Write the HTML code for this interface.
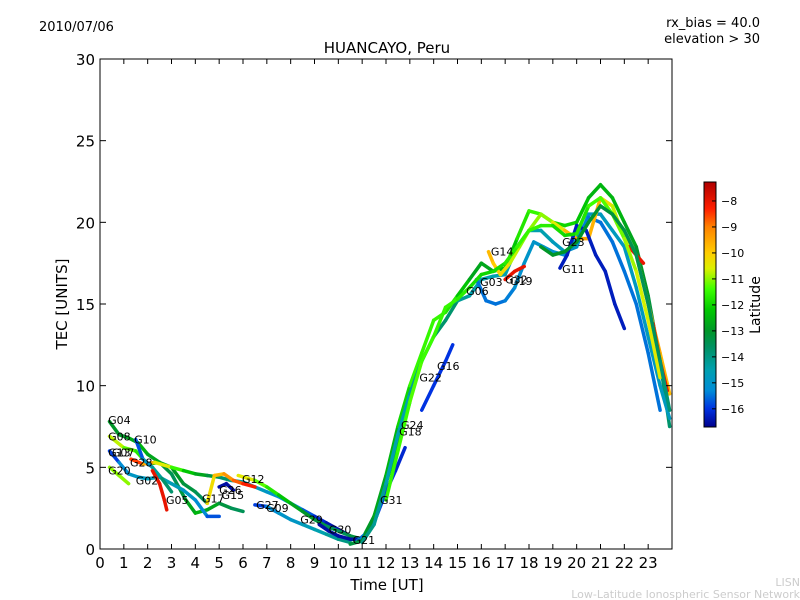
<!DOCTYPE html>
<html><head><meta charset="utf-8"><style>
body{margin:0;background:#fff;}
svg{display:block;font-family:"DejaVu Sans","Liberation Sans",sans-serif;}
</style></head><body>
<svg id="chart" width="800" height="600">
<text x="39" y="31" font-size="13">2010/07/06</text>
<text x="760" y="27" font-size="13" text-anchor="end">rx_bias = 40.0</text>
<text x="760" y="43" font-size="13" text-anchor="end">elevation &gt; 30</text>
<text x="387" y="53" font-size="15" text-anchor="middle">HUANCAYO, Peru</text>
<text x="387" y="590" font-size="15" text-anchor="middle">Time [UT]</text>
<text x="67" y="304" font-size="15" text-anchor="middle" transform="rotate(-90 67 304)">TEC [UNITS]</text>
<text x="800" y="586" font-size="11" fill="#ccc" text-anchor="end">LISN</text>
<text x="800" y="598" font-size="11" fill="#ccc" text-anchor="end">Low-Latitude Ionospheric Sensor Network</text>
<defs><linearGradient id="cmap" x1="0" y1="1" x2="0" y2="0"></linearGradient>
<clipPath id="pc"><rect x="100" y="59" width="572" height="490"/></clipPath></defs>
<g id="tracks" clip-path="url(#pc)"></g>
<g id="labels"></g>
<rect x="100" y="59" width="572" height="490" fill="none" stroke="#000"/>
<g id="axes"></g>
<rect x="704" y="182" width="12" height="245" fill="url(#cmap)" stroke="#000"/>
<g id="cbar"></g>
<text x="760" y="305" font-size="14" text-anchor="middle" transform="rotate(-90 760 305)">Latitude</text>
</svg>
<script>
const xTicks=[0,1,2,3,4,5,6,7,8,9,10,11,12,13,14,15,16,17,18,19,20,21,22,23];
const yTicks=[0,5,10,15,20,25,30];
const cbTicks=[-8,-9,-10,-11,-12,-13,-14,-15,-16];
const trackNames=["G04","G08","G20","G13","G28","G10","G02","G12","G17","G26","G27","G30","G31","G24","G18","G06","G14","G23a","G23b","G11","G16","G19","G25","G01"];
const trackTimes=[
[0.4,0.8,1.2,1.6,2,2.5,3,3.3,3.6,4,4.5,5,5.5,6],
[0.4,1,1.5,2,2.5,3,3.5,4,4.5],
[0.4,0.8,1.2],
[0.4,0.8,1.2,1.6,2,2.5,3,3.5,4,4.5,5],
[1.3,1.8,2.3,3,3.5,4,4.5,5,5.5,6,6.5,7,7.5,8,8.5,9,9.5,10,10.5,11],
[1.5,1.8,2.2,2.6,3],
[2.2,2.5,2.7,2.8],
[5.8,6.5,7,7.5,8,8.5,9,9.5,10,10.5,11,11.5,12,12.5,13],
[4.5,4.8,5.2,5.6,6,6.5],
[5,5.3,5.6],
[6.5,7,7.5,8,8.5,9,9.5,10,10.5],
[9.2,9.6,10,10.5,11],
[10.8,11.2,11.6,12,12.4,12.8],
[10.5,11,11.5,12,12.5,13,13.5,14,14.5,15,15.5,16,16.5,17,17.5,18,18.5,19,19.5,20,20.5,21,21.5,22,22.5,23,23.5,23.9],
[11,11.5,12,12.5,13,13.5,14,14.5,15,15.5,16,16.5,17,17.5,18,18.5,19,19.5,20,20.5,21,21.5,22,22.5,23,23.5,23.9],
[15.8,16.2,16.6,17,17.4,17.8,18.2,18.6,19,19.5,20,20.5,21,21.5,22,22.5,23,23.5],
[16.3,16.5,16.8,17.2,17.6,18,18.5,19,19.5,20,20.5,21,21.5,22,22.5,23,23.5,23.9],
[22.2,22.5,22.8],
[23.2,23.5,23.8],
[19.3,19.6,20,20.4,20.8,21.2,21.6,22],
[13.5,14,14.5,14.8],
[17,17.4,17.8],
[12,12.5,13,13.5,14,14.5,15,15.5,16,16.5,17,17.5,18,18.5,19,19.5,20,20.5,21,21.5,22,22.5,23,23.5],
[18.5,19,19.5,20,20.5,21,21.5,22,22.5,23,23.5,23.9]];
const trackTec=[
[7.8,7,6.8,6.5,5.8,5.3,4.6,3.8,3.0,2.2,2.4,2.8,2.5,2.3],
[6.9,6.2,6,5.2,5.3,5.0,4.0,3.5,2.8],
[5,4.5,4],
[6,5.3,4.6,4.4,4.3,4.4,4.0,3.6,3.0,2.0,2.0],
[5.5,5.2,5.3,5,4.8,4.6,4.5,4.4,4.2,4.1,3.8,3.5,3.2,2.8,2.4,2.0,1.6,1.2,0.8,0.5],
[6.7,5.5,5,4.3,3.5],
[4.8,4,3,2.4],
[4.5,4.2,3.8,3.3,2.8,2.3,1.8,1.4,1.1,0.8,0.6,2,4,6.5,9],
[2.8,4.5,4.6,4.2,4,3.8],
[3.8,4,3.6],
[2.7,2.6,2.2,1.8,1.5,1.2,0.9,0.6,0.4],
[1.5,1.1,0.8,0.6,0.6],
[0.5,1,2,3.5,4.8,6.2],
[0.3,0.5,2,4.5,7.5,10,12,14,14.5,15.5,16.5,17.5,17.0,17.2,19,20.7,20.5,20,19.8,20,21.5,22.3,21.5,20,18.5,15.5,11.5,7.5],
[0.4,1.5,4,7,9.5,11.5,13,14,15.2,15.5,16.5,16.7,16.8,18.5,19.5,19.5,18.8,18.2,18.5,20.5,20.5,19.5,18.5,16,13,10,8],
[16.5,15.2,15,15.2,16,17.5,18.8,18.5,18.2,18,19,20.3,20,18.8,17,15,12,8.5],
[18.2,17.5,16.8,17.5,18.5,19.5,20.5,20,19.5,19,19,21.5,21,19,18,15,12,9.5],
[18.5,18,17.5],
[13.8,11.5,9.7],
[17.2,18,19.8,19.5,18,17,15,13.5],
[8.5,10,11.5,12.5],
[16.5,17,17.3],
[3,6,9,11.5,13,14.8,15.3,16,16.8,17,17.5,18.5,19.5,19.8,19.8,19.2,19.3,21,21.5,20.5,19,17,14,10.5],
[18.5,18,18.2,18.8,20,21,20.5,19.5,18,15,11.5,8.5]];
const trackLat=[
[-13,-13,-13,-12.5,-12.5,-13,-13.5,-13.5,-13,-12.5,-12.5,-13,-13.5,-13.5],
[-10.5,-11,-11.5,-12,-12.5,-13,-13,-13.5,-13.5],
[-11,-11,-11],
[-16.3,-15.5,-15,-14.8,-14.8,-14.5,-14.5,-14.8,-15,-15.5,-16],
[-8,-9,-10,-11,-12,-12.5,-13,-13.5,-14,-14.5,-14.5,-15,-15,-15.2,-15.5,-16,-16.3,-16.5,-16.5,-16.5],
[-16,-15.5,-14.5,-14,-13.5],
[-8,-8,-8,-8],
[-10,-11,-11.5,-12,-12.5,-13,-13,-13.5,-13.5,-13.5,-13,-12.5,-12.5,-12.5,-12.5],
[-10.5,-10,-9.5,-9,-8.5,-8],
[-16.5,-16.5,-16.5],
[-16.3,-15.5,-15,-15,-14.8,-14.5,-14.5,-14,-14],
[-16.5,-16.5,-16.5,-16.5,-16.5],
[-15.5,-15.5,-15.8,-16,-16,-16.3],
[-13.5,-13,-13,-12.5,-12.5,-11.5,-11.5,-11.5,-11.5,-12,-12.5,-13,-12.5,-12.5,-12,-11.5,-11.5,-12,-12,-12,-12.5,-12.5,-12.5,-12.5,-13,-13,-13.5,-14],
[-14,-14,-14.5,-14.5,-14.5,-14,-14,-13.5,-14,-14.5,-14.5,-14.5,-14.5,-14.5,-14.5,-14.5,-14.5,-15,-15,-15,-14.8,-14.8,-14.8,-14.8,-14.8,-14.8,-14.8],
[-15.5,-15.5,-15.5,-15.5,-15.3,-15,-15,-15,-15,-15.2,-15.3,-15.5,-15.5,-15.5,-15.5,-15.5,-15.5,-15.5],
[-9.5,-10,-10,-10.5,-11,-11,-11,-11,-10,-9.5,-9.3,-10,-10.5,-11,-10,-9.5,-9.5,-10],
[-8,-8,-8],
[-8,-8,-8],
[-16.3,-16.3,-16.3,-16.3,-16.3,-16.3,-16.3,-16.3],
[-16,-16,-16,-16],
[-8,-8,-8],
[-11.5,-11.5,-11.3,-11.3,-11.5,-11.5,-11.5,-11.8,-12,-12,-11.8,-11.5,-11.5,-11.5,-11.8,-12,-12,-11.5,-11.3,-11.3,-11,-10.8,-10.5,-10.5],
[-13,-13,-13,-13,-13,-13.2,-13.2,-13.3,-13.5,-13.5,-13.7,-14]];
const labelNames=["G04","G08","G10","G13","G07","G28","G20","G02","G05","G17","G26","G15","G12","G27","G09","G29","G30","G21","G31","G24","G18","G22","G16","G06","G03","G14","G32","G19","G23","G11"];
const labelT=[0.34,0.34,1.43,0.34,0.5,1.26,0.34,1.5,2.77,4.28,5.0,5.1,5.96,6.55,6.97,8.4,9.6,10.6,11.75,12.63,12.55,13.4,14.14,15.36,15.95,16.4,17.0,17.2,19.39,19.39];
const labelV=[7.9,6.9,6.7,5.9,5.9,5.3,4.8,4.2,3.0,3.1,3.6,3.3,4.3,2.7,2.5,1.8,1.2,0.55,3.0,7.6,7.2,10.5,11.2,15.8,16.35,18.2,16.5,16.4,18.8,17.15];

const X0=100,X1=672,Y0=549,Y1=59,CB0=182,CB1=427,LATMAX=-7.27,LATMIN=-16.7;
const xs=t=>X0+t*(X1-X0)/24;
const ys=v=>Y0-v*(Y0-Y1)/30;
const cy=l=>CB0+(LATMAX-l)*(CB1-CB0)/(LATMAX-LATMIN);
const STOPS=[[-16.7,[0,0,140]],[-16,[0,50,225]],[-15.3,[0,140,215]],[-14.5,[0,160,175]],[-13.6,[0,145,95]],[-13,[0,150,40]],[-12.2,[0,200,0]],[-11.4,[60,255,0]],[-10.6,[220,240,0]],[-10,[255,205,0]],[-9,[255,130,0]],[-8.3,[255,30,0]],[-7.27,[175,0,0]]];
function cmap(l){
  if(l<=STOPS[0][0])return `rgb(${STOPS[0][1]})`;
  for(let i=0;i<STOPS.length-1;i++){const a=STOPS[i],b=STOPS[i+1];
    if(l<=b[0]){const f=(l-a[0])/(b[0]-a[0]);return 'rgb('+a[1].map((v,k)=>Math.round(v+(b[1][k]-v)*f)).join(',')+')';}}
  return `rgb(${STOPS[STOPS.length-1][1]})`;
}
const NS="http://www.w3.org/2000/svg";
function mk(tag,attrs,parent){const e=document.createElementNS(NS,tag);for(const k in attrs)e.setAttribute(k,attrs[k]);parent.appendChild(e);return e;}
const grad=document.getElementById('cmap');
STOPS.forEach(s=>mk('stop',{offset:(s[0]-LATMIN)/(LATMAX-LATMIN),'stop-color':`rgb(${s[1]})`},grad));
const gT=document.getElementById('tracks');
trackTimes.forEach((ts,i)=>{
  const g=mk('g',{},gT);
  
  
  for(let j=0;j<ts.length-1;j++){
    const s=mk('line',{x1:xs(ts[j]),y1:ys(trackTec[i][j]),x2:xs(ts[j+1]),y2:ys(trackTec[i][j+1]),stroke:cmap((trackLat[i][j]+trackLat[i][j+1])/2),'stroke-width':3.5,'stroke-linecap':'round'},g);
    
    
  }
});
const gL=document.getElementById('labels');
labelNames.forEach((n,i)=>{
  const t=mk('text',{x:xs(labelT[i]),y:ys(labelV[i])+4,'font-size':11},gL);
  t.textContent=n;
  
  
});
const gA=document.getElementById('axes');
xTicks.forEach(v=>{
  const x=xs(v);
  const a=mk('line',{x1:x,y1:Y0,x2:x,y2:Y0-5,stroke:'#000'},gA);
  
  
  mk('line',{x1:x,y1:Y1,x2:x,y2:Y1+5,stroke:'#000'},gA);
  const t=mk('text',{x:x,y:568,'font-size':15,'text-anchor':'middle'},gA);
  t.textContent=v;
  
  
});
yTicks.forEach(v=>{
  const y=ys(v);
  const a=mk('line',{x1:X0,y1:y,x2:X0+6,y2:y,stroke:'#000'},gA);
  
  
  mk('line',{x1:X1,y1:y,x2:X1-6,y2:y,stroke:'#000'},gA);
  const t=mk('text',{x:95,y:y+6,'font-size':15,'text-anchor':'end'},gA);
  t.textContent=v;
  
  
});
const gC=document.getElementById('cbar');
cbTicks.forEach(v=>{
  const y=cy(v);
  const a=mk('line',{x1:712,y1:y,x2:716,y2:y,stroke:'#000'},gC);
  
  
  const t=mk('text',{x:721,y:y+4,'font-size':11},gC);
  t.textContent='\u2212'+Math.abs(v);
  
  
});
</script>
</body></html>
